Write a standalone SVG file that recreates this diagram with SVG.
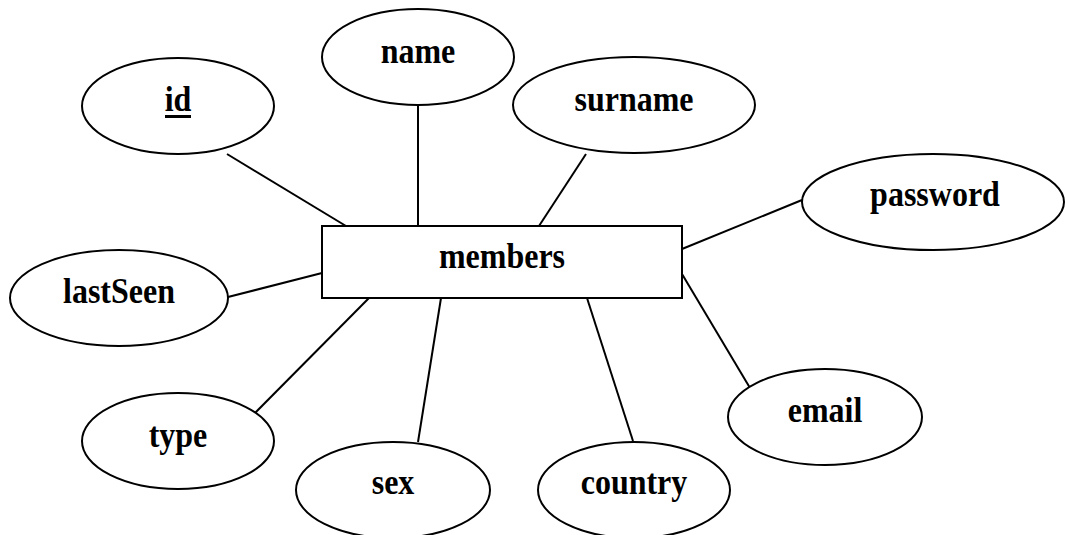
<svg xmlns="http://www.w3.org/2000/svg" width="1065" height="535" viewBox="0 0 1065 535">
<style>
.sh{fill:#fff;stroke:#000;stroke-width:2}
.ln{stroke:#000;stroke-width:2;fill:none}
.t{font-family:'Liberation Serif','Times New Roman','DejaVu Serif',serif;font-weight:700;font-size:32px;text-anchor:middle;fill:#000}
</style>
<rect width="1065" height="535" fill="#fff"/>
<g id="connectors">
<line class="ln" x1="227" y1="154" x2="346" y2="226"/>
<line class="ln" x1="418" y1="105" x2="418" y2="226"/>
<line class="ln" x1="586" y1="154" x2="539" y2="226"/>
<line class="ln" x1="802" y1="200" x2="682" y2="249"/>
<line class="ln" x1="228" y1="297" x2="322" y2="273"/>
<line class="ln" x1="251" y1="417" x2="369" y2="298"/>
<line class="ln" x1="418" y1="442" x2="441" y2="298"/>
<line class="ln" x1="633" y1="441" x2="587" y2="298"/>
<line class="ln" x1="753" y1="393" x2="682" y2="274"/>
</g>
<g id="members"><rect class="sh" x="322" y="226" width="360" height="72"/><text class="t" transform="translate(502,268) scale(1,1.1)">members</text></g>
<g id="id"><ellipse class="sh" cx="178" cy="106" rx="96" ry="48"/><text class="t" transform="translate(178,111) scale(1,1.1)">id</text><rect x="165" y="115" width="26" height="3" fill="#000"/></g>
<g id="name"><ellipse class="sh" cx="418" cy="57" rx="96" ry="48"/><text class="t" transform="translate(418,63) scale(1,1.1)">name</text></g>
<g id="surname"><ellipse class="sh" cx="634" cy="105" rx="121" ry="48"/><text class="t" transform="translate(634,111) scale(1,1.1)">surname</text></g>
<g id="password"><ellipse class="sh" cx="933" cy="202" rx="131" ry="48"/><text class="t" transform="translate(935,206) scale(1,1.1)">password</text></g>
<g id="lastSeen"><ellipse class="sh" cx="119" cy="298" rx="109" ry="48"/><text class="t" transform="translate(119,303) scale(1,1.1)">lastSeen</text></g>
<g id="type"><ellipse class="sh" cx="178" cy="441" rx="96" ry="48"/><text class="t" transform="translate(178,447) scale(1,1.1)">type</text></g>
<g id="sex"><ellipse class="sh" cx="393" cy="490" rx="97" ry="48"/><text class="t" transform="translate(393,494) scale(1,1.1)">sex</text></g>
<g id="country"><ellipse class="sh" cx="634" cy="490" rx="96" ry="48"/><text class="t" transform="translate(634,494) scale(1,1.1)">country</text></g>
<g id="email"><ellipse class="sh" cx="825" cy="417" rx="97" ry="48"/><text class="t" transform="translate(825,422) scale(1,1.1)">email</text></g>
</svg>
